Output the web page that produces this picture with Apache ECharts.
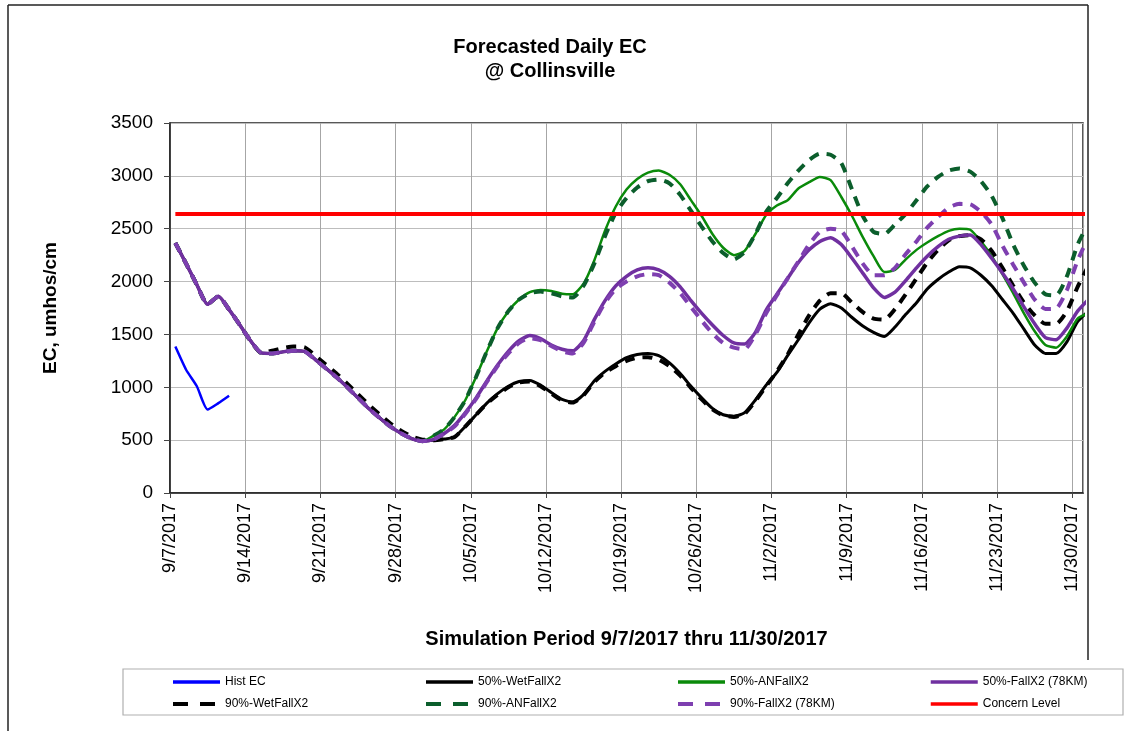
<!DOCTYPE html>
<html>
<head>
<meta charset="utf-8">
<script src="https://cdn.jsdelivr.net/npm/echarts@6/dist/echarts.min.js"></script>
<style>
  html, body { margin: 0; padding: 0; background: #fff; }
  #chart { width: 1125px; height: 731px; }
</style>
</head>
<body>
<div id="chart"></div>
<script>
// weekly tick labels (x axis is days since 9/7/2017)
const tickLabels = ['9/7/2017', '9/14/2017', '9/21/2017', '9/28/2017', '10/5/2017', '10/12/2017',
  '10/19/2017', '10/26/2017', '11/2/2017', '11/9/2017', '11/16/2017', '11/23/2017', '11/30/2017'];

// daily values, first value = 9/7/2017
const histEC = [1385, 1166, 1010, 790, 850, 920];

const wet50 = [2365, 2170, 1970, 1785, 1860, 1735, 1590, 1440, 1325, 1320, 1335, 1345, 1340, 1265, 1180,
  1095, 1000, 900, 800, 712, 630, 565, 515, 490, 500, 510, 530, 630, 740, 850, 940, 1010, 1055, 1065,
  1020, 950, 885, 860, 930, 1060, 1150, 1220, 1280, 1310, 1320, 1300, 1230, 1130, 1010, 900, 800, 740,
  725, 760, 880, 1020, 1140, 1300, 1450, 1610, 1740, 1790, 1750, 1660, 1580, 1520, 1480, 1570, 1690,
  1800, 1930, 2020, 2090, 2140, 2130, 2060, 1960, 1830, 1700, 1550, 1400, 1320, 1320, 1430, 1620, 1720];

const an50 = [2365, 2170, 1970, 1785, 1860, 1735, 1590, 1440, 1325, 1320, 1335, 1345, 1340, 1265, 1180,
  1095, 1000, 900, 800, 712, 630, 565, 515, 490, 540, 600, 720, 880, 1100, 1340, 1560, 1720, 1830, 1900,
  1920, 1910, 1885, 1880, 1980, 2200, 2480, 2710, 2870, 2970, 3030, 3050, 3010, 2920, 2770, 2620, 2450,
  2320, 2250, 2290, 2450, 2630, 2720, 2770, 2880, 2940, 2990, 2960, 2800, 2620, 2420, 2240, 2090, 2110,
  2210, 2300, 2370, 2430, 2480, 2500, 2490, 2380, 2240, 2070, 1890, 1700, 1530, 1400, 1375, 1480, 1650, 1700];

const fall50 = [2365, 2170, 1970, 1785, 1860, 1735, 1590, 1440, 1325, 1320, 1335, 1345, 1340, 1265, 1180,
  1095, 1000, 900, 800, 712, 630, 565, 515, 490, 505, 560, 640, 760, 900, 1060, 1210, 1340, 1440, 1490,
  1460, 1400, 1360, 1345, 1440, 1640, 1820, 1960, 2050, 2110, 2130, 2110, 2050, 1950, 1820, 1700, 1590,
  1490, 1420, 1410, 1520, 1730, 1880, 2030, 2180, 2300, 2380, 2415, 2350, 2220, 2080, 1940, 1850, 1900,
  2010, 2130, 2240, 2330, 2400, 2430, 2440, 2350, 2220, 2080, 1930, 1760, 1600, 1470, 1450, 1560, 1720, 1830];

const wet90 = [2365, 2170, 1970, 1785, 1860, 1735, 1590, 1440, 1325, 1345, 1370, 1385, 1380, 1300, 1215,
  1130, 1035, 935, 835, 745, 660, 590, 535, 505, 500, 510, 530, 630, 740, 845, 930, 1000, 1045, 1055,
  1010, 940, 875, 855, 925, 1050, 1140, 1200, 1250, 1280, 1285, 1260, 1200, 1110, 995, 885, 790, 735,
  720, 750, 870, 1010, 1150, 1310, 1500, 1680, 1820, 1890, 1890, 1800, 1710, 1650, 1640, 1740, 1880,
  2030, 2180, 2300, 2390, 2430, 2440, 2400, 2290, 2130, 1960, 1800, 1680, 1600, 1600, 1720, 1950, 2150];

const an90 = [2365, 2170, 1970, 1785, 1860, 1735, 1590, 1440, 1325, 1320, 1335, 1345, 1340, 1265, 1180,
  1095, 1000, 900, 800, 712, 630, 565, 515, 490, 540, 600, 720, 880, 1100, 1340, 1560, 1720, 1830, 1890,
  1905, 1890, 1860, 1850, 1960, 2170, 2430, 2650, 2790, 2890, 2950, 2965, 2930, 2820, 2670, 2520, 2380,
  2270, 2210, 2280, 2450, 2660, 2790, 2930, 3050, 3150, 3210, 3200, 3120, 2870, 2620, 2470, 2450, 2540,
  2640, 2770, 2900, 2990, 3050, 3070, 3040, 2950, 2810, 2600, 2350, 2150, 1990, 1880, 1870, 2050, 2350, 2550];

const fall90 = [2365, 2170, 1970, 1785, 1860, 1735, 1590, 1440, 1325, 1320, 1335, 1345, 1340, 1265, 1180,
  1095, 1000, 900, 800, 712, 630, 565, 515, 490, 505, 560, 630, 750, 890, 1050, 1200, 1320, 1420, 1465,
  1445, 1390, 1340, 1320, 1420, 1620, 1800, 1930, 2000, 2050, 2070, 2060, 1990, 1890, 1760, 1630, 1510,
  1420, 1375, 1360, 1500, 1700, 1870, 2030, 2190, 2350, 2470, 2500, 2480, 2330, 2170, 2060, 2060, 2130,
  2260, 2380, 2510, 2610, 2700, 2735, 2730, 2660, 2540, 2340, 2160, 1990, 1830, 1740, 1745, 1920, 2200, 2420];

const concernLevel = 2640;

// daily points sit in the middle of each day
const toXY = arr => arr.map((v, i) => [i + 0.5, v]);

const FONT = '"Liberation Sans", Arial, sans-serif';
const dashed = [10, 8];

const chart = echarts.init(document.getElementById('chart'));

function lineSeries(name, data, color, width, type, z) {
  return {
    name: name,
    type: 'line',
    data: toXY(data),
    symbol: 'none',
    smooth: 0.2,
    z: z,
    lineStyle: { color: color, width: width, type: type },
    itemStyle: { color: color },
    emphasis: { disabled: true }
  };
}

function legendCol(left, names) {
  return {
    orient: 'vertical',
    left: left,
    top: 676,
    padding: 0,
    itemWidth: 47,
    itemHeight: 14,
    itemGap: 10,
    itemStyle: { opacity: 0 },
    textStyle: { fontFamily: FONT, fontSize: 12, color: '#000' },
    data: names.map(n => n.indexOf('90%') === 0
      ? { name: n, lineStyle: { type: [15, 12], width: 4 } }
      : { name: n, lineStyle: { width: 3.5 } })
  };
}

const option = {
  animation: false,
  backgroundColor: '#fff',
  title: {
    text: 'Forecasted Daily EC\n@ Collinsville',
    left: 545,
    top: 30,
    textAlign: 'center',
    textStyle: { fontFamily: FONT, fontSize: 20, fontWeight: 'bold', color: '#000', lineHeight: 24 }
  },
  legend: [
    legendCol(171, ['Hist EC', '90%-WetFallX2']),
    legendCol(424, ['50%-WetFallX2', '90%-ANFallX2']),
    legendCol(676, ['50%-ANFallX2', '90%-FallX2 (78KM)']),
    legendCol(929, ['50%-FallX2 (78KM)', 'Concern Level'])
  ],
  grid: {
    left: 170, right: 42, top: 123, bottom: 238,
    show: true, borderColor: '#222', borderWidth: 1.5
  },
  xAxis: {
    type: 'value',
    min: 0,
    max: 85,
    interval: 7,
    name: 'Simulation Period 9/7/2017 thru 11/30/2017',
    nameLocation: 'middle',
    nameGap: 136,
    nameTextStyle: { fontFamily: FONT, fontSize: 20, fontWeight: 'bold', color: '#000' },
    axisLine: { lineStyle: { color: '#222', width: 1.5 } },
    axisTick: { show: true, length: 5, lineStyle: { color: '#444' } },
    axisLabel: {
      rotate: 90,
      margin: 10,
      fontFamily: FONT,
      fontSize: 18,
      color: '#000',
      showMaxLabel: false,
      formatter: v => (v % 7 === 0 && tickLabels[v / 7]) ? tickLabels[v / 7] : ''
    },
    splitLine: { show: true, lineStyle: { color: '#a6a6a6', width: 1 } }
  },
  yAxis: {
    type: 'value',
    min: 0,
    max: 3500,
    interval: 500,
    name: 'EC, umhos/cm',
    nameLocation: 'middle',
    nameGap: 110,
    nameTextStyle: { fontFamily: FONT, fontSize: 19, fontWeight: 'bold', color: '#000' },
    axisLine: { show: true, lineStyle: { color: '#222', width: 1.5 } },
    axisTick: { show: true, length: 6, lineStyle: { color: '#444' } },
    axisLabel: { margin: 17, fontFamily: FONT, fontSize: 19, color: '#000', formatter: v => String(v) },
    splitLine: { show: true, lineStyle: { color: '#bdbdbd', width: 1 } }
  },
  graphic: [
    // outer frame of the original sheet
    { type: 'line', shape: { x1: 8, y1: 5, x2: 8, y2: 731 }, style: { stroke: '#222', lineWidth: 1.5 } },
    { type: 'line', shape: { x1: 8, y1: 5, x2: 1088, y2: 5 }, style: { stroke: '#222', lineWidth: 1.5 } },
    { type: 'line', shape: { x1: 1088, y1: 5, x2: 1088, y2: 660 }, style: { stroke: '#222', lineWidth: 1.5 } },
    // legend box
    { type: 'rect', shape: { x: 123, y: 669, width: 1000, height: 46 },
      style: { fill: 'none', stroke: '#b0b0b0', lineWidth: 1.2 }, z: -1 }
  ],
  series: [
    lineSeries('Hist EC', histEC, '#0000ff', 2.5, 'solid', 3),
    lineSeries('50%-WetFallX2', wet50, '#000000', 3, 'solid', 2),
    lineSeries('50%-ANFallX2', an50, '#0a8a0a', 2.5, 'solid', 2),
    lineSeries('50%-FallX2 (78KM)', fall50, '#7030a0', 3.5, 'solid', 3),
    lineSeries('90%-WetFallX2', wet90, '#000000', 4, dashed, 2),
    lineSeries('90%-ANFallX2', an90, '#0b5e2c', 4, dashed, 2),
    lineSeries('90%-FallX2 (78KM)', fall90, '#7e3fb0', 4, dashed, 3),
    lineSeries('Concern Level', fall50.map(() => concernLevel), '#ff0000', 4, 'solid', 4)
  ]
};

chart.setOption(option);
</script>
</body>
</html>
